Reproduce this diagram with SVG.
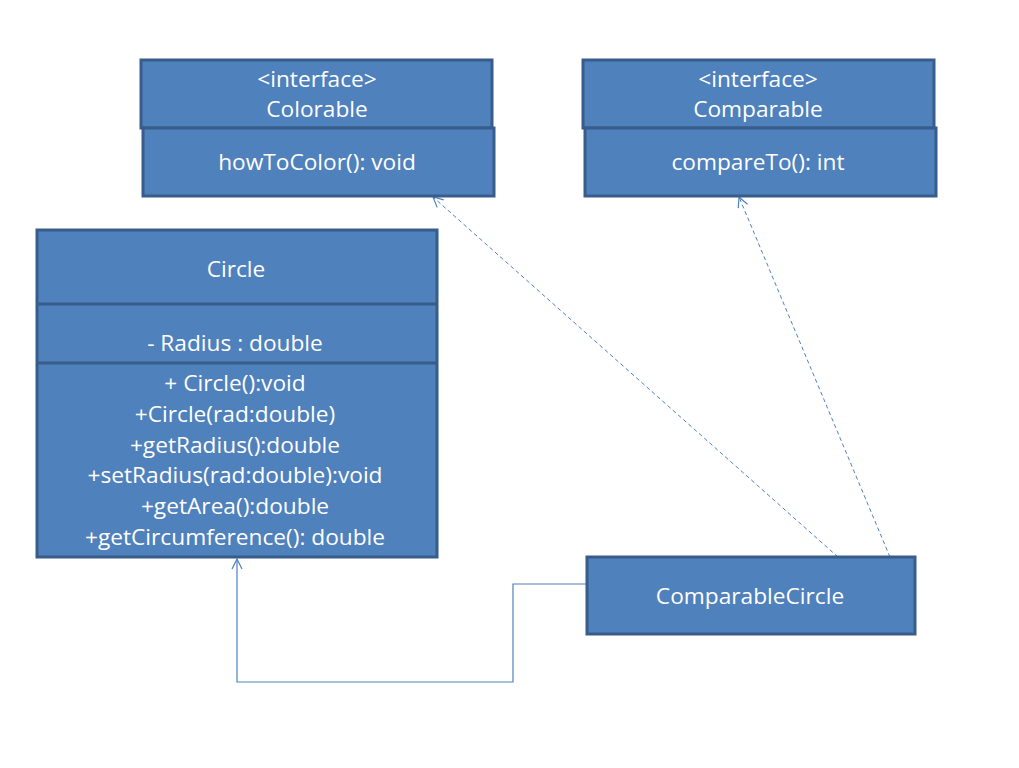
<svg xmlns="http://www.w3.org/2000/svg" width="1019" height="768" viewBox="0 0 1019 768">
<defs>
<style>
.box{fill:#4F81BD;stroke:#385D8A;stroke-width:3}
.t{font-family:"Open Sans","Liberation Sans",sans-serif;font-size:22.7px;fill:#FFFFFF;text-anchor:middle}
.dash{fill:none;stroke:#4F81BD;stroke-width:1;stroke-dasharray:4,3}
.solid{fill:none;stroke:#4F81BD;stroke-width:1.2}
</style>
<marker id="open" viewBox="0 0 12 12" refX="11" refY="6" markerWidth="12" markerHeight="12" markerUnits="userSpaceOnUse" orient="auto">
<path d="M1,1 L11,6 L1,11" fill="none" stroke="#4F81BD" stroke-width="1.2"/>
</marker>
</defs>
<rect width="1019" height="768" fill="#FFFFFF"/>
<g id="connectors">
<path class="dash" d="M838,557 L433,197" marker-end="url(#open)"/>
<path class="dash" d="M890,557 L739,197" marker-end="url(#open)"/>
<path class="solid" d="M587,584 L513,584 L513,682 L237,682 L237,559" marker-end="url(#open)"/>
</g>
<g id="colorable">
<rect class="box" x="141" y="60" width="351" height="68"/>
<rect class="box" x="143" y="128" width="351" height="68"/>
<text class="t" x="317" y="87">&lt;interface&gt;</text>
<text class="t" x="317" y="117">Colorable</text>
<text class="t" x="317" y="170">howToColor(): void</text>
</g>
<g id="comparable">
<rect class="box" x="583" y="60" width="351" height="68"/>
<rect class="box" x="585" y="128" width="351" height="68"/>
<text class="t" x="758" y="87">&lt;interface&gt;</text>
<text class="t" x="758" y="117">Comparable</text>
<text class="t" x="758" y="170">compareTo(): int</text>
</g>
<g id="circle">
<rect class="box" x="37" y="230" width="400" height="327"/>
<line x1="37" y1="304" x2="437" y2="304" stroke="#385D8A" stroke-width="3"/>
<line x1="37" y1="363" x2="437" y2="363" stroke="#385D8A" stroke-width="3"/>
<text class="t" x="236" y="277">Circle</text>
<text class="t" x="235" y="351">- Radius : double</text>
<text class="t" x="235" y="391">+ Circle():void</text>
<text class="t" x="235" y="422">+Circle(rad:double)</text>
<text class="t" x="235" y="453">+getRadius():double</text>
<text class="t" x="235" y="483">+setRadius(rad:double):void</text>
<text class="t" x="235" y="514">+getArea():double</text>
<text class="t" x="235" y="545">+getCircumference(): double</text>
</g>
<g id="comparablecircle">
<rect class="box" x="587" y="557" width="328" height="77"/>
<text class="t" x="750" y="604">ComparableCircle</text>
</g>
</svg>
